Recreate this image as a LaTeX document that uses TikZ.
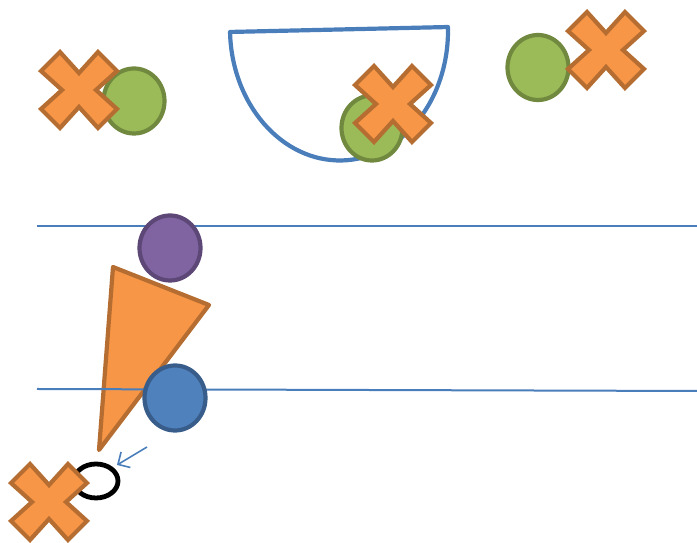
\documentclass[tikz,border=0pt]{standalone}
\usetikzlibrary{shapes.geometric}
\usetikzlibrary{arrows.meta}
\definecolor{orfill}{HTML}{F79646}
\definecolor{ordraw}{HTML}{B66D31}
\definecolor{grfill}{HTML}{9BBB59}
\definecolor{grdraw}{HTML}{71893F}
\definecolor{pufill}{HTML}{8064A2}
\definecolor{pudraw}{HTML}{5C4776}
\definecolor{blfill}{HTML}{4F81BD}
\definecolor{bldraw}{HTML}{385D8A}
\definecolor{bline}{HTML}{4A7EBB}
\tikzset{ball/.style = {shape=ellipse,draw,line width=4.2pt,minimum width=61pt,minimum height=65pt,inner sep=0pt}}
\tikzset{greenball/.style = {ball,fill=grfill,draw=grdraw}}
\tikzset{xmark/.pic = {\draw[fill=orfill,draw=ordraw,line width=4.2pt]
  (-19,38) -- (0,17) -- (19,38) -- (38,19) -- (17,0) -- (38,-19) -- (19,-38)
  -- (0,-17) -- (-19,-38) -- (-38,-19) -- (-17,0) -- (-38,19) -- cycle;}}
\tikzset{track/.style = {draw=bline,line width=2pt}}

\begin{document}
\begin{tikzpicture}[x=1pt,y=1pt]
            \useasboundingbox (0,0) rectangle (697,543);

            % Bowl
            \draw[draw=bline,line width=4.2pt,line join=round,rotate around={1.3:(339,513.5)}]
              (230,513.5) -- (448,513.5) arc[start angle=0,end angle=-180,x radius=109,y radius=131] -- cycle;

            % Top row
            \node[greenball] (g2) at (372,415) {};
            \pic (x2) at (393,439) {xmark};
            \node[greenball] (g1) at (134,442) {};
            \pic (x1) at (79,453) {xmark};
            \node[greenball] (g3) at (538,475.5) {};
            \pic (x3) at (606,493) {xmark};

            % Lines
            \draw[track] (37,317) -- (697,317);
            \node[ball,fill=pufill,draw=pudraw] (purple) at (170,295) {};
            \draw[fill=orfill,draw=ordraw,line width=4.2pt,line join=round] (113,276) -- (209,238) -- (99,93) -- cycle;
            \draw[track] (37,154) -- (697,152);
            \node[ball,fill=blfill,draw=bldraw] (blue) at (175,145) {};

            % Arrow
            \coordinate (tail) at (147,96);
            \coordinate (tip) at (117,78);
            \draw[draw=bline,line width=1.6pt,-{Straight Barb[length=9pt,width=18pt]}] (tail) -- (tip);

            % Bottom
            \node[shape=ellipse,draw=black,line width=4.8pt,minimum width=44pt,minimum height=34pt,inner sep=0pt] (ring) at (96,62) {};
            \pic (x4) at (49,41) {xmark};
\end{tikzpicture}
\end{document}
